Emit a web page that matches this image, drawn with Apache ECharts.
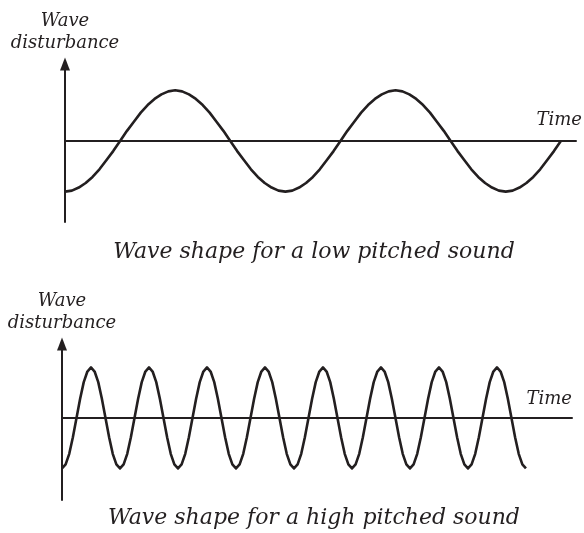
<!DOCTYPE html>
<html>
<head>
<meta charset="utf-8">
<script src="https://cdn.jsdelivr.net/npm/echarts@6/dist/echarts.min.js"></script>
<style>html,body{margin:0;padding:0;background:#fff}#c{width:584px;height:533px}</style>
</head>
<body>
<div id="c"></div>
<script>
// Low pitched sound: time in 1/32-period steps, displacement in amplitude units
var lowTime = [0,1,2,3,4,5,6,7,8,9,10,11,12,13,14,15,16,17,18,19,20,21,22,23,24,25,26,27,28,29,30,31,
  32,33,34,35,36,37,38,39,40,41,42,43,44,45,46,47,48,49,50,51,52,53,54,55,56,57,58,59,60,61,62,63,
  64,65,66,67,68,69,70,71,72];
var lowDisp = [-1,-0.98,-0.92,-0.83,-0.71,-0.56,-0.38,-0.2,0,0.2,0.38,0.56,0.71,0.83,0.92,0.98,1,0.98,0.92,0.83,0.71,0.56,0.38,0.2,0,-0.2,-0.38,-0.56,-0.71,-0.83,-0.92,-0.98,
  -1,-0.98,-0.92,-0.83,-0.71,-0.56,-0.38,-0.2,0,0.2,0.38,0.56,0.71,0.83,0.92,0.98,1,0.98,0.92,0.83,0.71,0.56,0.38,0.2,0,-0.2,-0.38,-0.56,-0.71,-0.83,-0.92,-0.98,
  -1,-0.98,-0.92,-0.83,-0.71,-0.56,-0.38,-0.2,0];
// High pitched sound: time in 1/16-period steps
var highTime = [0,1,2,3,4,5,6,7,8,9,10,11,12,13,14,15,16,17,18,19,20,21,22,23,24,25,26,27,28,29,30,31,
  32,33,34,35,36,37,38,39,40,41,42,43,44,45,46,47,48,49,50,51,52,53,54,55,56,57,58,59,60,61,62,63,
  64,65,66,67,68,69,70,71,72,73,74,75,76,77,78,79,80,81,82,83,84,85,86,87,88,89,90,91,92,93,94,95,
  96,97,98,99,100,101,102,103,104,105,106,107,108,109,110,111,112,113,114,115,116,117,118,119,120,121,122,123,124,125,126,127,128];
var highDisp = [
  -1,-0.92,-0.71,-0.38,0,0.38,0.71,0.92,1,0.92,0.71,0.38,0,-0.38,-0.71,-0.92,
  -1,-0.92,-0.71,-0.38,0,0.38,0.71,0.92,1,0.92,0.71,0.38,0,-0.38,-0.71,-0.92,
  -1,-0.92,-0.71,-0.38,0,0.38,0.71,0.92,1,0.92,0.71,0.38,0,-0.38,-0.71,-0.92,
  -1,-0.92,-0.71,-0.38,0,0.38,0.71,0.92,1,0.92,0.71,0.38,0,-0.38,-0.71,-0.92,
  -1,-0.92,-0.71,-0.38,0,0.38,0.71,0.92,1,0.92,0.71,0.38,0,-0.38,-0.71,-0.92,
  -1,-0.92,-0.71,-0.38,0,0.38,0.71,0.92,1,0.92,0.71,0.38,0,-0.38,-0.71,-0.92,
  -1,-0.92,-0.71,-0.38,0,0.38,0.71,0.92,1,0.92,0.71,0.38,0,-0.38,-0.71,-0.92,
  -1,-0.92,-0.71,-0.38,0,0.38,0.71,0.92,1,0.92,0.71,0.38,0,-0.38,-0.71,-0.92,
  -1];
var yName = 'Wave\ndisturbance';
var xName = 'Time';
var captions = ['Wave shape for a low pitched sound', 'Wave shape for a high pitched sound'];

var ink = '#231f20';
var font = 'DejaVu Serif';
function pairs(xs, ys){ return xs.map(function(x,i){ return [x, ys[i]]; }); }

var chart = echarts.init(document.getElementById('c'), null, {renderer:'canvas'});
var axisCommon = {
  axisTick:{show:false}, axisLabel:{show:false}, splitLine:{show:false}
};
function yAx(idx, min, max){
  return Object.assign({
    type:'value', gridIndex:idx, min:min, max:max,
    name:yName, nameLocation:'end', nameGap:10,
    nameTextStyle:{fontFamily:font, fontStyle:'italic', fontSize:18, color:ink, lineHeight:22, align:'center'},
    axisLine:{show:true, onZero:false, symbol:['none','triangle'], symbolSize:[10,13], lineStyle:{color:ink, width:2}}
  }, axisCommon);
}
function xAx(idx, max, gap, pad){
  return Object.assign({
    type:'value', gridIndex:idx, min:0, max:max,
    name:xName, nameLocation:'end', nameGap:gap,
    nameTextStyle:{fontFamily:font, fontStyle:'italic', fontSize:18, color:ink, align:'right', verticalAlign:'bottom', padding:[0,0,pad,0]},
    axisLine:{show:true, onZero:true, lineStyle:{color:ink, width:2}}
  }, axisCommon);
}
chart.setOption({
  animation:false,
  backgroundColor:'#fff',
  grid:[
    {left:65, width:511, top:64, height:158},
    {left:62, width:510, top:344, height:156}
  ],
  xAxis:[ xAx(0, 74.2, 6, 12), xAx(1, 140.7, 0, 10) ],
  yAxis:[ yAx(0, -1.6, 1.52), yAx(1, -1.624, 1.465) ],
  series:[
    {type:'line', xAxisIndex:0, yAxisIndex:0, data:pairs(lowTime, lowDisp), smooth:false, showSymbol:false,
     lineStyle:{color:ink, width:2.6, join:'round'}},
    {type:'line', xAxisIndex:1, yAxisIndex:1, data:pairs(highTime, highDisp), smooth:false, showSymbol:false,
     lineStyle:{color:ink, width:2.6, join:'round'}}
  ],
  graphic:[
    {type:'text', x:314, y:252, style:{text:captions[0], font:'italic 22px "DejaVu Serif"', fill:ink, align:'center', verticalAlign:'middle'}},
    {type:'text', x:314, y:518, style:{text:captions[1], font:'italic 22px "DejaVu Serif"', fill:ink, align:'center', verticalAlign:'middle'}}
  ]
});
</script>
</body>
</html>
